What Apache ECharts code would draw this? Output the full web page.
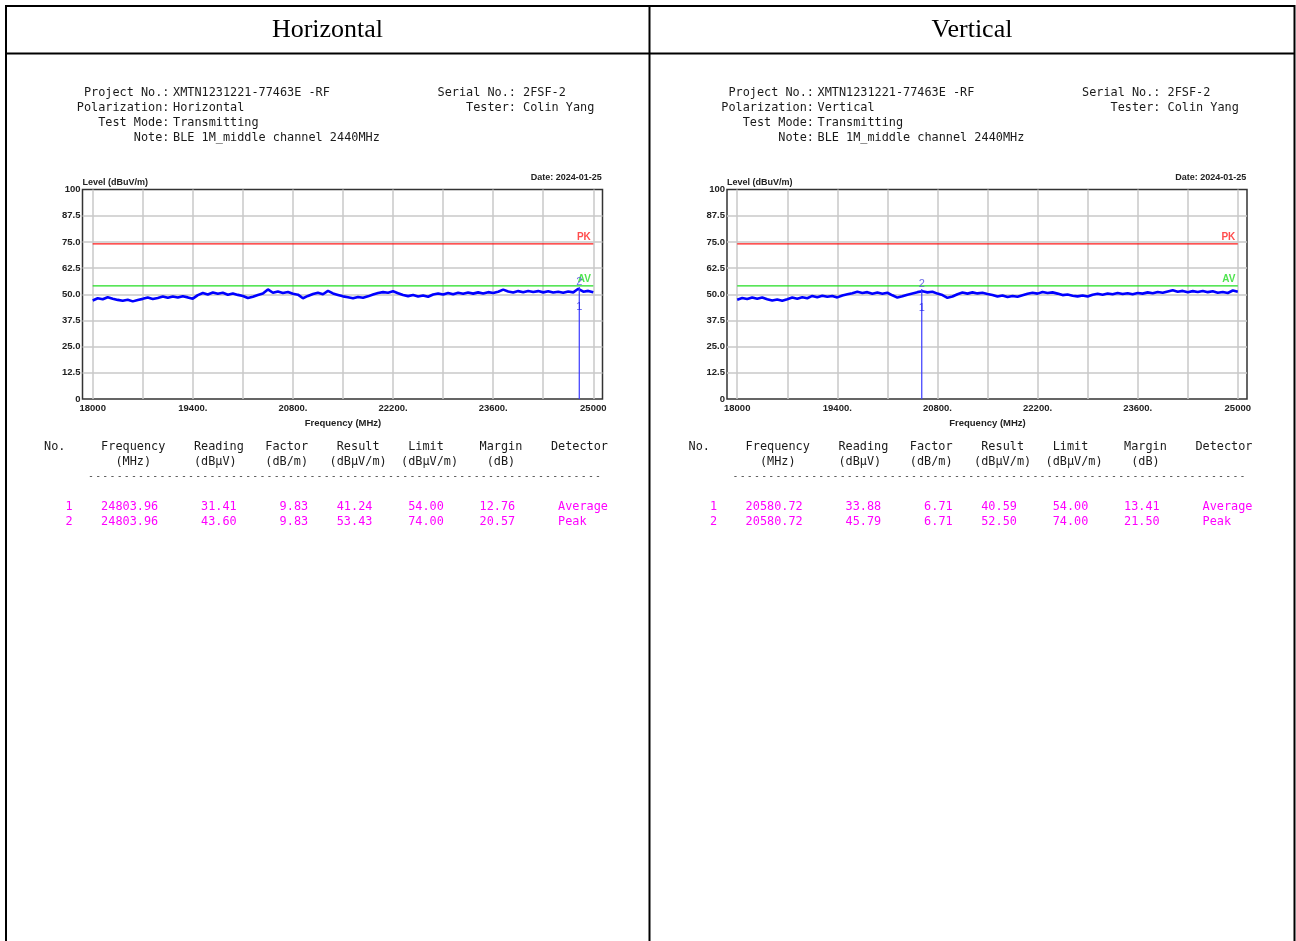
<!DOCTYPE html>
<html><head><meta charset="utf-8">
<script src="https://cdn.jsdelivr.net/npm/echarts@6/dist/echarts.min.js"></script>
<style>html,body{margin:0;padding:0;background:#fff;}#c{width:1296px;height:941px;}</style>
</head><body><div id="c"></div>
<script>
// ---------- data ----------
const sweepStartMHz = 18000;
const sweepStepMHz = 70;
const hLevel = [47.0,48.1,47.6,48.6,47.9,47.3,46.9,47.4,46.6,47.3,
 47.8,48.4,47.7,48.2,48.9,48.3,48.9,48.4,49.0,48.5,
 47.9,49.6,50.6,49.9,50.8,50.2,50.7,49.8,50.4,49.7,
 49.2,48.2,48.8,49.6,50.3,52.3,50.7,51.3,50.6,51.1,
 50.2,49.8,48.1,49.2,50.1,50.7,50.0,51.6,50.4,49.7,
 49.0,48.6,48.1,48.7,48.3,49.0,49.9,50.6,51.0,50.7,
 51.4,50.5,49.6,49.1,49.6,48.9,49.4,48.8,49.9,50.4,
 49.9,50.6,50.0,50.7,50.2,50.8,50.3,50.9,50.4,51.0,
 50.6,51.2,52.2,51.3,50.8,51.5,51.0,51.6,51.1,51.5,
 50.9,51.4,50.8,51.2,50.7,51.3,50.9,52.6,51.2,51.6,
 50.9];
const vLevel = [47.4,48.2,47.7,48.5,47.9,48.4,47.6,47.0,47.5,46.9,
 47.6,48.4,47.9,48.6,48.1,49.2,48.6,49.3,48.8,49.2,
 48.5,49.4,50.0,50.5,51.2,50.6,51.0,50.2,50.8,50.2,
 50.7,49.5,48.4,49.0,49.8,50.4,51.0,51.4,50.9,51.2,
 50.3,49.6,48.3,48.9,50.0,50.8,50.3,50.9,50.4,50.7,
 50.1,49.6,48.9,49.4,48.7,49.2,48.8,49.5,50.2,50.7,
 50.3,51.1,50.6,50.9,50.3,49.6,49.9,49.3,49.0,49.4,
 48.9,49.8,50.2,49.8,50.4,50.0,50.6,50.1,50.5,50.0,
 50.6,50.3,50.9,50.5,51.1,50.7,51.3,51.9,51.2,51.6,
 51.0,51.5,51.1,51.6,51.0,51.4,50.7,51.1,50.6,51.8,
 51.2];
const pkLimit = 74;
const avLimit = 54;
const freqMin = 18000, freqMax = 25000;
const xTickLabels = {18000:'18000',19400:'19400.',20800:'20800.',22200:'22200.',23600:'23600.',25000:'25000'};
const yTickLabels = {'0':'0','12.5':'12.5','25':'25.0','37.5':'37.5','50':'50.0','62.5':'62.5','75':'75.0','87.5':'87.5','100':'100'};
const tableHead1 = ['No.','Frequency','Reading','Factor','Result','Limit','Margin','Detector'];
const tableHead2 = ['','(MHz)','(dBμV)','(dB/m)','(dBμV/m)','(dBμV/m)','(dB)',''];
const hRows = [['1','24803.96','31.41','9.83','41.24','54.00','12.76','Average'],
               ['2','24803.96','43.60','9.83','53.43','74.00','20.57','Peak']];
const vRows = [['1','20580.72','33.88','6.71','40.59','54.00','13.41','Average'],
               ['2','20580.72','45.79','6.71','52.50','74.00','21.50','Peak']];
const projectNo = 'XMTN1231221-77463E -RF';
const serialNo = '2FSF-2';
const tester = 'Colin Yang';
const testMode = 'Transmitting';
const note = 'BLE 1M_middle channel 2440MHz';
const testDate = 'Date: 2024-01-25';

// ---------- layout helpers ----------
const SANS = '"Liberation Sans", Arial, sans-serif';
const MONO = '"DejaVu Sans Mono", "Liberation Mono", monospace';
const CW = 7.14;
const head1Cols = [0,8,21,31,41,51,61,71];
const head2Cols = [0,10,21,31,40,50,62,0];
const rowCols = [3,8,22,33,41,51,61,72];

function txt(x, y, text, font, fill, align, valign) {
  return {type:'text', x:x, y:y, silent:true, style:{text:text, font:font, fill:fill,
    align:align||'left', verticalAlign:valign||'middle', textAlign:align||'left', textVerticalAlign:valign||'middle'}};
}
function ln(x1,y1,x2,y2,w){return {type:'line', silent:true, shape:{x1,y1,x2,y2}, style:{stroke:'#000', lineWidth:w||2}};}

const panels = [
  {dx:0, title:'Horizontal', pol:'Horizontal', trace:hLevel, rows:hRows},
  {dx:644.5, title:'Vertical', pol:'Vertical', trace:vLevel, rows:vRows}
];

const grid=[], xAxis=[], yAxis=[], series=[];
const graphics = [
  ln(5,6,1295,6), ln(5,53.5,1295,53.5), ln(6,5,6,941), ln(649.5,5,649.5,941), ln(1294.5,5,1294.5,941)
];

panels.forEach((p, i) => {
  const dx = p.dx;
  const fi = 2*i, di = 2*i+1;
  grid.push({left:82.5+dx, top:189.5, width:520, height:209.5, show:true, borderColor:'#333', borderWidth:1.5, backgroundColor:'rgba(0,0,0,0)'});
  grid.push({left:92.7+dx, top:189.5, width:500.6, height:209.5});
  xAxis.push({gridIndex:fi, type:'value', min:0, max:1, show:false});
  xAxis.push({gridIndex:di, type:'value', min:freqMin, max:freqMax, interval:700,
    axisLine:{show:false}, axisTick:{show:false},
    splitLine:{show:true, lineStyle:{color:'#c8c8c8', width:1.5}},
    axisLabel:{margin:4, fontFamily:SANS, fontWeight:'bold', fontSize:9.5, color:'#222',
      formatter: v => xTickLabels[v] !== undefined ? xTickLabels[v] : ''},
    name:'Frequency (MHz)', nameLocation:'middle', nameGap:19,
    nameTextStyle:{fontFamily:SANS, fontWeight:'bold', fontSize:9.5, color:'#222'}});
  yAxis.push({gridIndex:fi, type:'value', min:0, max:100, interval:12.5,
    axisLine:{show:false}, axisTick:{show:false},
    splitLine:{show:true, showMinLine:false, showMaxLine:false, lineStyle:{color:'#c8c8c8', width:1.5}},
    axisLabel:{margin:2, fontFamily:SANS, fontWeight:'bold', fontSize:9.5, color:'#222',
      formatter: v => yTickLabels[String(v)] !== undefined ? yTickLabels[String(v)] : ''}});
  yAxis.push({gridIndex:di, type:'value', min:0, max:100, show:false});

  const traceData = p.trace.map((v, k) => [sweepStartMHz + k*sweepStepMHz, v]);
  series.push({type:'line', xAxisIndex:di, yAxisIndex:di, data:traceData, symbol:'none',
    lineStyle:{color:'#0000ff', width:2.6}, z:3, silent:true});
  series.push({type:'line', xAxisIndex:di, yAxisIndex:di, data:[[freqMin,pkLimit],[freqMax,pkLimit]], symbol:'none',
    lineStyle:{color:'#ff1a1a', width:1.2}, z:2, silent:true});
  series.push({type:'line', xAxisIndex:di, yAxisIndex:di, data:[[freqMin,avLimit],[freqMax,avLimit]], symbol:'none',
    lineStyle:{color:'#22dd22', width:1.2}, z:2, silent:true});
  const mf = Number(p.rows[0][1]);
  const r1 = Number(p.rows[0][4]), r2 = Number(p.rows[1][4]);
  series.push({type:'line', xAxisIndex:di, yAxisIndex:di, data:[[mf,0],[mf,r2]], symbol:'none',
    lineStyle:{color:'#3a3aff', width:1.2}, z:4, silent:true});
  const lab = (val, text, color, bold, pos, align, size) => ({value:val, label:{show:true, formatter:text, color:color,
    fontFamily:SANS, fontSize:size||10, fontWeight:bold?'bold':'normal', position:pos, align:align, verticalAlign:'bottom'}});
  series.push({type:'scatter', xAxisIndex:di, yAxisIndex:di, symbol:'circle', symbolSize:1,
    itemStyle:{color:'rgba(0,0,0,0)'}, z:6, silent:true,
    data:[
      lab([freqMax,pkLimit], 'PK', '#ff2020', true, [-2,-1.5], 'right'),
      lab([freqMax,avLimit], 'AV', '#22dd22', true, [-2,-1], 'right'),
      lab([mf,r1], '1', '#2020e8', false, [0.5,0.5], 'center', 11),
      lab([mf,r2], '2', '#4a4ae0', false, [0.5,0.5], 'center', 11)
    ]});

  // header title
  graphics.push(txt(327.5+dx, 30, p.title, '26px "Liberation Serif", "Times New Roman", serif', '#000', 'center'));
  // info block
  const infoFont = '11.85px ' + MONO;
  const infoL = [['Project No.:', projectNo],['Polarization:', p.pol],['Test Mode:', testMode],['Note:', note]];
  infoL.forEach((r, k) => {
    graphics.push(txt(169.5+dx, 92.5+15*k, r[0], infoFont, '#1a1a1a', 'right'));
    graphics.push(txt(173+dx, 92.5+15*k, r[1], infoFont, '#1a1a1a', 'left'));
  });
  const infoR = [['Serial No.:', serialNo],['Tester:', tester]];
  infoR.forEach((r, k) => {
    graphics.push(txt(516+dx, 92.5+15*k, r[0], infoFont, '#1a1a1a', 'right'));
    graphics.push(txt(523+dx, 92.5+15*k, r[1], infoFont, '#1a1a1a', 'left'));
  });
  // chart captions
  graphics.push(txt(82.5+dx, 182.5, 'Level (dBuV/m)', 'bold 9px ' + SANS, '#222', 'left'));
  graphics.push(txt(601.7+dx, 177.7, testDate, 'bold 9px ' + SANS, '#222', 'right'));
  // table
  const x0 = 44 + dx;
  const tf = '11.85px ' + MONO;
  tableHead1.forEach((t, c) => { if (t) graphics.push(txt(x0 + head1Cols[c]*CW, 446.5, t, tf, '#1a1a1a')); });
  tableHead2.forEach((t, c) => { if (t) graphics.push(txt(x0 + head2Cols[c]*CW, 461.5, t, tf, '#1a1a1a')); });
  for (let c = 0; c < 72; c++) graphics.push(txt(x0 + (6 + c)*CW + 1.5, 476.5, '-', '9px ' + MONO, '#222'));
  p.rows.forEach((row, k) => {
    row.forEach((t, c) => graphics.push(txt(x0 + rowCols[c]*CW, 506.5 + 15*k, t, tf, '#ff00ff')));
  });
});

const chart = echarts.init(document.getElementById('c'), null, {renderer:'canvas'});
chart.setOption({
  animation:false,
  backgroundColor:'#fff',
  grid, xAxis, yAxis, series,
  graphic:{elements:graphics}
});
</script></body></html>
